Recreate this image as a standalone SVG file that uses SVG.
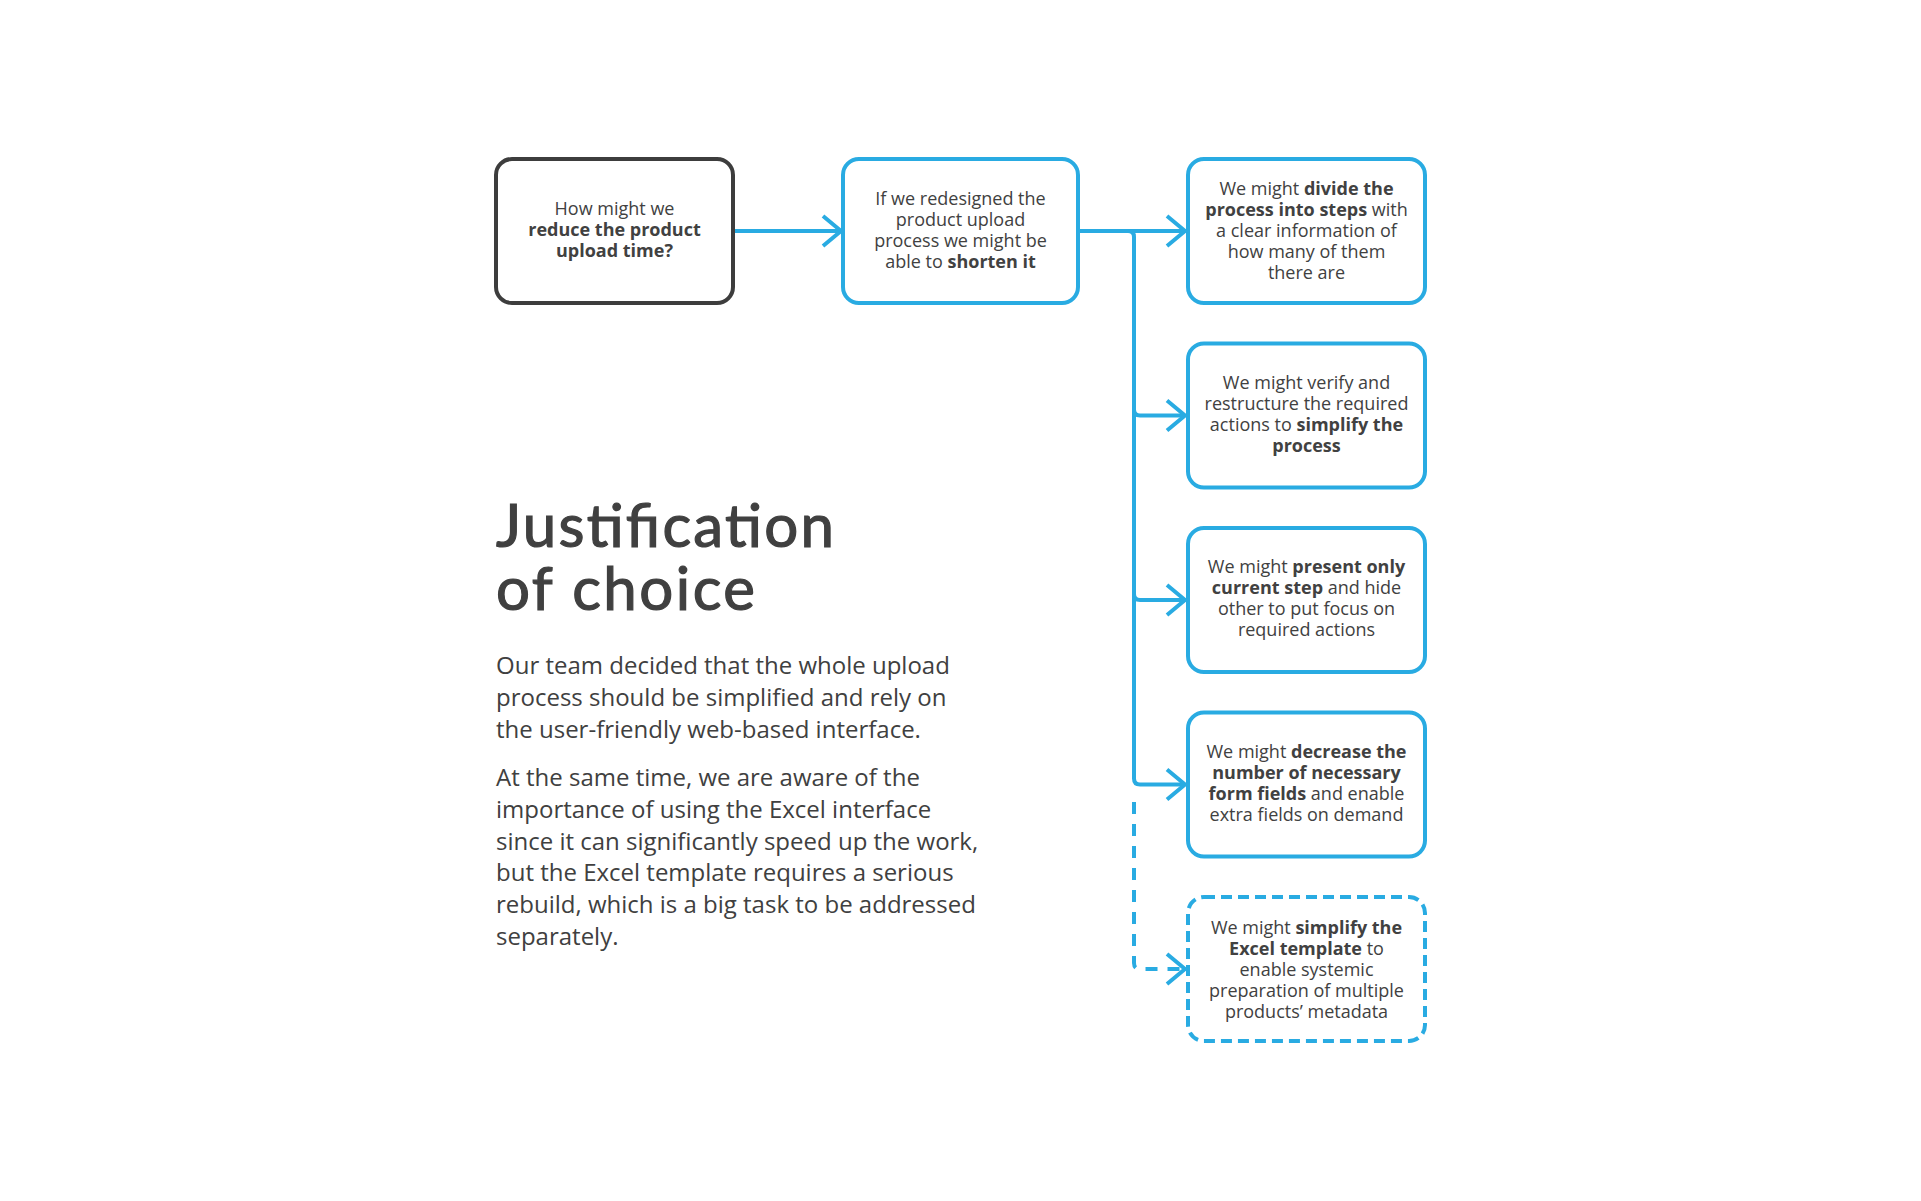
<svg xmlns="http://www.w3.org/2000/svg" width="1921" height="1201" viewBox="0 0 1921 1201">
<style>
.box{fill:#fff;stroke:#29abe2;stroke-width:4}
.dark{stroke:#3d3d3d}
.dash{stroke-dasharray:11 6}
.t{font-family:"Open Sans","Noto Sans",sans-serif;font-size:18px;fill:#414141;text-anchor:middle}
.b{font-weight:700}
.con{fill:none;stroke:#29abe2;stroke-width:4}
.body{font-family:"Open Sans","Noto Sans",sans-serif;font-size:24px;fill:#404040}
.title{font-family:Lato,"Open Sans",sans-serif;font-size:60px;fill:#404040;stroke:#404040;stroke-width:1.2}
</style>
<defs>
<marker id="arr" markerUnits="userSpaceOnUse" viewBox="0 0 26 36" markerWidth="26" markerHeight="36" refX="21" refY="18" orient="auto">
<path d="M3,3 L21,18 L3,33" fill="none" stroke="#29abe2" stroke-width="4"/>
</marker>
</defs>
<rect width="1921" height="1201" fill="#fff"/>
<g id="connectors">
<path class="con" d="M733,231 H841" marker-end="url(#arr)"/>
<path class="con" d="M1078,231 H1185" marker-end="url(#arr)"/>
<path class="con" d="M1078,231 H1128 Q1134,231 1134,237 V409.5 Q1134,415.5 1140,415.5 H1185" marker-end="url(#arr)"/>
<path class="con" d="M1134,237 V594 Q1134,600 1140,600 H1185" marker-end="url(#arr)"/>
<path class="con" d="M1134,237 V778.5 Q1134,784.5 1140,784.5 H1185" marker-end="url(#arr)"/>
<path class="con" d="M1134,802 V963 Q1134,969 1140,969 H1185" stroke-dasharray="12 10" marker-end="url(#arr)"/>
</g>
<g id="node-question">
<rect class="box dark" x="496" y="159" width="237" height="144" rx="16"/>
<text class="t"><tspan x="614.5" y="215">How might we</tspan><tspan class="b" x="614.5" y="236">reduce the product</tspan><tspan class="b" x="614.5" y="257">upload time?</tspan></text>
</g>
<g id="node-hypothesis">
<rect class="box" x="843" y="159" width="235" height="144" rx="16"/>
<text class="t"><tspan x="960.5" y="205">If we redesigned the</tspan><tspan x="960.5" y="226">product upload</tspan><tspan x="960.5" y="247">process we might be</tspan><tspan x="960.5" y="268">able to <tspan class="b">shorten it</tspan></tspan></text>
</g>
<g id="node-steps">
<rect class="box" x="1188" y="159" width="237" height="144" rx="16"/>
<text class="t"><tspan x="1306.5" y="195">We might <tspan class="b">divide the</tspan></tspan><tspan x="1306.5" y="216"><tspan class="b">process into steps</tspan> with</tspan><tspan x="1306.5" y="237">a clear information of</tspan><tspan x="1306.5" y="258">how many of them</tspan><tspan x="1306.5" y="279">there are</tspan></text>
</g>
<g id="node-simplify">
<rect class="box" x="1188" y="343.5" width="237" height="144" rx="16"/>
<text class="t"><tspan x="1306.5" y="389">We might verify and</tspan><tspan x="1306.5" y="410">restructure the required</tspan><tspan x="1306.5" y="431">actions to <tspan class="b">simplify the</tspan></tspan><tspan x="1306.5" y="452" class="b">process</tspan></text>
</g>
<g id="node-current-step">
<rect class="box" x="1188" y="528" width="237" height="144" rx="16"/>
<text class="t"><tspan x="1306.5" y="573">We might <tspan class="b">present only</tspan></tspan><tspan x="1306.5" y="594"><tspan class="b">current step</tspan> and hide</tspan><tspan x="1306.5" y="615">other to put focus on</tspan><tspan x="1306.5" y="636">required actions</tspan></text>
</g>
<g id="node-fields">
<rect class="box" x="1188" y="712.5" width="237" height="144" rx="16"/>
<text class="t"><tspan x="1306.5" y="758">We might <tspan class="b">decrease the</tspan></tspan><tspan x="1306.5" y="779" class="b">number of necessary</tspan><tspan x="1306.5" y="800"><tspan class="b">form fields</tspan> and enable</tspan><tspan x="1306.5" y="821">extra fields on demand</tspan></text>
</g>
<g id="node-excel">
<rect class="box dash" x="1188" y="897" width="237" height="144" rx="16"/>
<text class="t"><tspan x="1306.5" y="934">We might <tspan class="b">simplify the</tspan></tspan><tspan x="1306.5" y="955"><tspan class="b">Excel template</tspan> to</tspan><tspan x="1306.5" y="976">enable systemic</tspan><tspan x="1306.5" y="997">preparation of multiple</tspan><tspan x="1306.5" y="1018">products’ metadata</tspan></text>
</g>
<g id="justification">
<text class="title"><tspan x="496" y="547" textLength="338">Justification</tspan><tspan x="496" y="610" textLength="259">of choice</tspan></text>
<text class="body"><tspan x="496" y="674">Our team decided that the whole upload</tspan><tspan x="496" y="706">process should be simplified and rely on</tspan><tspan x="496" y="738">the user-friendly web-based interface.</tspan></text>
<text class="body"><tspan x="496" y="786">At the same time, we are aware of the</tspan><tspan x="496" y="818">importance of using the Excel interface</tspan><tspan x="496" y="850">since it can significantly speed up the work,</tspan><tspan x="496" y="881">but the Excel template requires a serious</tspan><tspan x="496" y="913">rebuild, which is a big task to be addressed</tspan><tspan x="496" y="945">separately.</tspan></text>
</g>
</svg>
